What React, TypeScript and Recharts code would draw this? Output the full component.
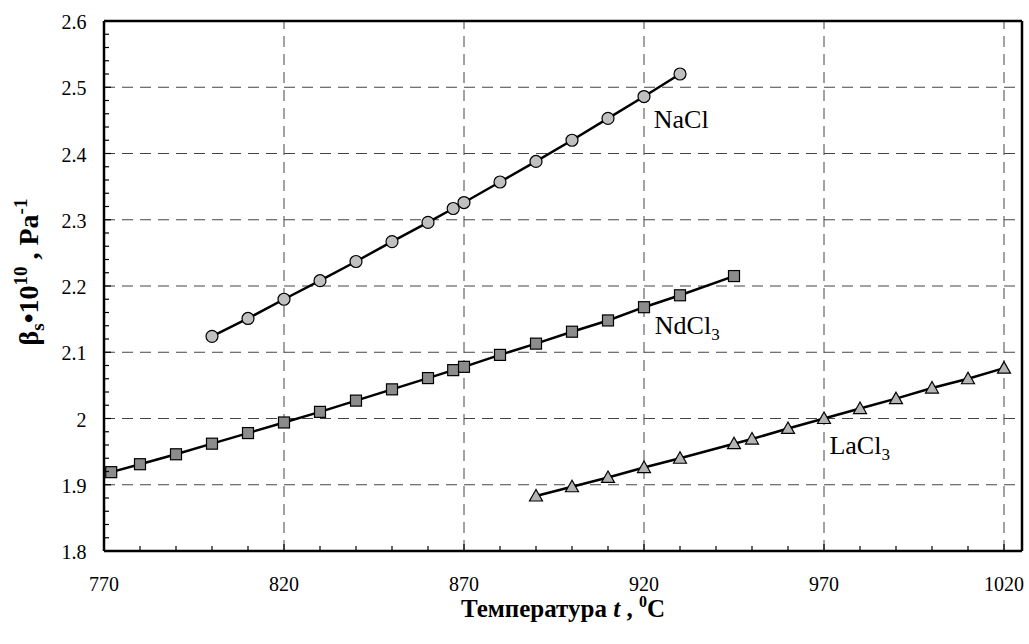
import React from "react"
import { LineChart, Line, XAxis, YAxis, ReferenceLine, ReferenceDot, Label } from "recharts"

// NaCl
const naclT = [800, 810, 820, 830, 840, 850, 860, 867, 870, 880, 890, 900, 910, 920, 930]
const naclB = [2.124, 2.151, 2.180, 2.208, 2.237, 2.267, 2.296, 2.317, 2.326, 2.357, 2.388, 2.420, 2.453, 2.486, 2.520]

// NdCl3
const ndT = [772, 780, 790, 800, 810, 820, 830, 840, 850, 860, 867, 870, 880, 890, 900, 910, 920, 930, 945]
const ndB = [1.919, 1.931, 1.946, 1.962, 1.978, 1.994, 2.010, 2.027, 2.044, 2.061, 2.073, 2.078, 2.096, 2.113, 2.131, 2.148, 2.168, 2.186, 2.215]

// LaCl3
const laT = [890, 900, 910, 920, 930, 945, 950, 960, 970, 980, 990, 1000, 1010, 1020]
const laB = [1.883, 1.897, 1.911, 1.926, 1.940, 1.962, 1.969, 1.985, 2.000, 2.015, 2.030, 2.046, 2.060, 2.076]

const xMajor = [770, 820, 870, 920, 970, 1020]
const yMajor = [1.8, 1.9, 2, 2.1, 2.2, 2.3, 2.4, 2.5, 2.6]

// series names placed next to the curves (t, beta of text start)
const seriesLabels = [
    { name: "NaCl", sub: "", t: 922.7, b: 2.439 },
    { name: "NdCl", sub: "3", t: 923, b: 2.128 },
    { name: "LaCl", sub: "3", t: 971.5, b: 1.947 },
]

const xMinor = Array.from({ length: 26 }, (_, i) => 770 + i * 10)
const yMinor = Array.from({ length: 41 }, (_, i) => Math.round((1.8 + i * 0.02) * 100) / 100)

const nacl = naclT.map((t, i) => ({ t, b: naclB[i] }))
const ndcl = ndT.map((t, i) => ({ t, b: ndB[i] }))
const lacl = laT.map((t, i) => ({ t, b: laB[i] }))

const FONT = "'Liberation Serif', 'Times New Roman', Times, serif"
const serif = { fontFamily: FONT }

const isMajorY = (v: number) => Math.abs(v * 10 - Math.round(v * 10)) < 1e-6

const XTick = (props: any) => {
    const { x, y, payload } = props
    const major = xMajor.includes(payload.value)
    return (
        <g>
            <line x1={x} x2={x} y1={y} y2={y - (major ? 7 : 5)} stroke="#000" strokeWidth={1.2} />
            {major && (
                <text x={x} y={y + 40} textAnchor="middle" fontSize={20} style={serif} fill="#000">
                    {payload.value}
                </text>
            )}
        </g>
    )
}

const YTick = (props: any) => {
    const { x, y, payload } = props
    const major = isMajorY(payload.value)
    return (
        <g>
            <line x1={x} x2={x + (major ? 7 : 5)} y1={y} y2={y} stroke="#000" strokeWidth={1.2} />
            {major && (
                <text x={x - 17.5} y={y + 8} textAnchor="end" fontSize={20} style={serif} fill="#000">
                    {String(Number(payload.value.toFixed(1)))}
                </text>
            )}
        </g>
    )
}

const circleDot = (p: any) => (
    <circle key={`c${p.index}`} cx={p.cx} cy={p.cy} r={6} fill="#c0c0c0" stroke="#000" strokeWidth={1.2} />
)
const squareDot = (p: any) => (
    <rect key={`s${p.index}`} x={p.cx - 5.5} y={p.cy - 5.5} width={11} height={11} fill="#8c8c8c" stroke="#000" strokeWidth={1.2} />
)
const triDot = (p: any) => (
    <polygon
        key={`t${p.index}`}
        points={`${p.cx},${p.cy - 6.5} ${p.cx - 6.5},${p.cy + 5} ${p.cx + 6.5},${p.cy + 5}`}
        fill="#b4b4b4"
        stroke="#000"
        strokeWidth={1.2}
    />
)

export default function App() {
    return (
        <div style={{ position: "absolute", left: 0, top: 0, width: 1029, height: 644, background: "#fff", fontFamily: FONT }}>
            <LineChart width={1029} height={644} margin={{ top: 21, right: 7, left: 44, bottom: 33 }} style={serif}>
                <XAxis
                    type="number"
                    dataKey="t"
                    domain={[770, 1025]}
                    ticks={xMinor}
                    interval={0}
                    allowDataOverflow
                    height={60}
                    tickSize={0}
                    tickMargin={0}
                    tickLine={false}
                    tick={<XTick />}
                    axisLine={{ stroke: "#000", strokeWidth: 2.5 }}
                >
                    <Label
                        content={(p: any) => {
                            const vb = p.viewBox
                            return (
                                <text
                                    x={vb.x + vb.width / 2}
                                    y={vb.y + 66}
                                    textAnchor="middle"
                                    fontSize={25}
                                    fontWeight="bold"
                                    style={serif}
                                    fill="#000"
                                >
                                    Температура <tspan fontStyle="italic">t</tspan> , <tspan fontSize={16} dy={-10}>0</tspan>
                                    <tspan dy={10}>C</tspan>
                                </text>
                            )
                        }}
                    />
                </XAxis>
                <YAxis
                    type="number"
                    domain={[1.8, 2.6]}
                    ticks={yMinor}
                    interval={0}
                    allowDataOverflow
                    width={60}
                    tickSize={0}
                    tickMargin={0}
                    tickLine={false}
                    tick={<YTick />}
                    axisLine={{ stroke: "#000", strokeWidth: 2.5 }}
                >
                    <Label
                        content={(p: any) => {
                            const vb = p.viewBox
                            const cx = vb.x - 6
                            const cy = vb.y + vb.height / 2 - 14
                            return (
                                <text
                                    x={cx}
                                    y={cy}
                                    transform={`rotate(-90, ${cx}, ${cy})`}
                                    textAnchor="middle"
                                    fontSize={28}
                                    fontWeight="bold"
                                    style={serif}
                                    fill="#000"
                                >
                                    β<tspan fontSize={19} dy={6}>s</tspan>
                                    <tspan dy={-6}>•10</tspan>
                                    <tspan fontSize={19} dy={-11}>10</tspan>
                                    <tspan dy={11}> , Pa</tspan>
                                    <tspan fontSize={19} dy={-11}>-1</tspan>
                                </text>
                            )
                        }}
                    />
                </YAxis>

                {xMajor.slice(1).map(v => (
                    <ReferenceLine key={`gx${v}`} x={v} stroke="#444" strokeWidth={1} strokeDasharray="11 7" />
                ))}
                {yMajor.slice(1, -1).map(v => (
                    <ReferenceLine key={`gy${v}`} y={v} stroke="#444" strokeWidth={1} strokeDasharray="11 7" />
                ))}
                <ReferenceLine y={2.6} stroke="#000" strokeWidth={2.5} />
                <ReferenceLine x={1025} stroke="#000" strokeWidth={2.5} />

                <Line data={nacl} dataKey="b" type="linear" stroke="#000" strokeWidth={2.5} dot={circleDot} activeDot={false} isAnimationActive={false} />
                <Line data={ndcl} dataKey="b" type="linear" stroke="#000" strokeWidth={2.5} dot={squareDot} activeDot={false} isAnimationActive={false} />
                <Line data={lacl} dataKey="b" type="linear" stroke="#000" strokeWidth={2.5} dot={triDot} activeDot={false} isAnimationActive={false} />

                {seriesLabels.map(l => (
                    <ReferenceDot
                        key={l.name}
                        x={l.t}
                        y={l.b}
                        r={0}
                        shape={(p: any) => (
                            <text x={p.cx} y={p.cy} fontSize={26} style={serif} fill="#000">
                                {l.name}
                                {l.sub && <tspan fontSize={17} dy={6}>{l.sub}</tspan>}
                            </text>
                        )}
                    />
                ))}
            </LineChart>
        </div>
    )
}
